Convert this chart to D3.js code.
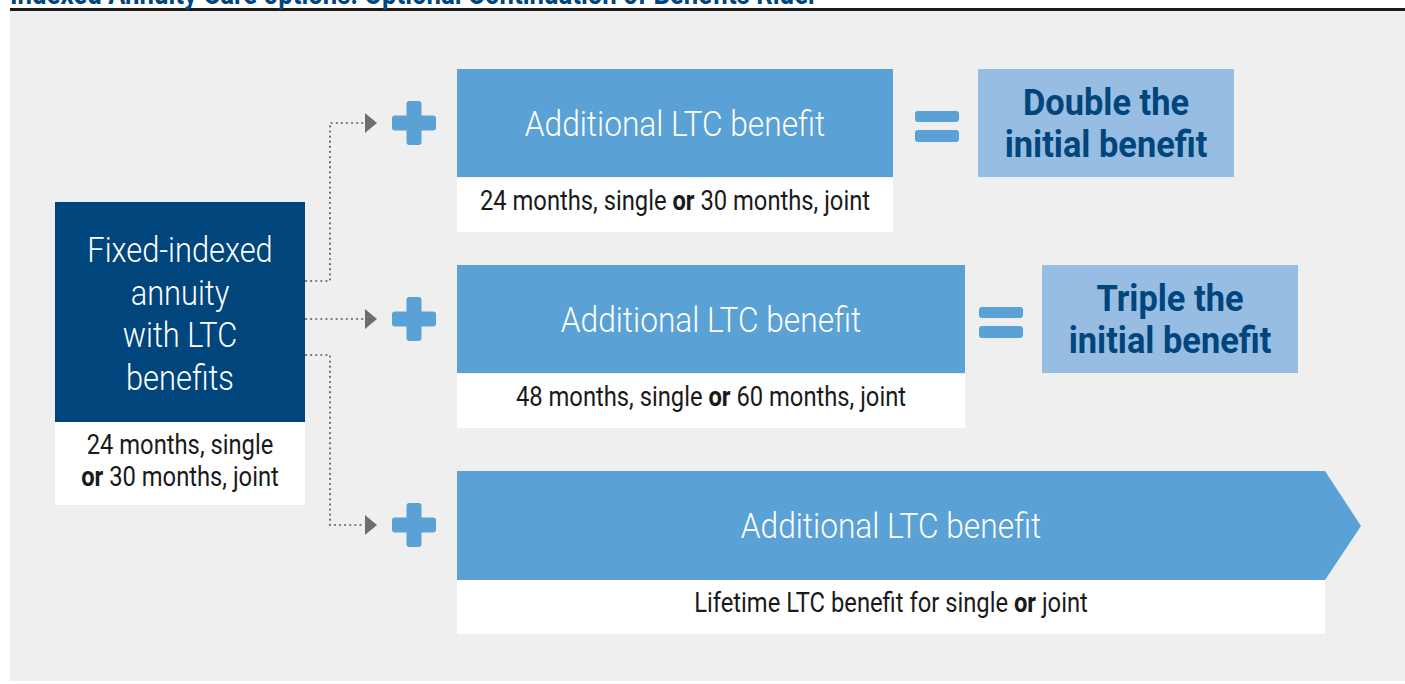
<!DOCTYPE html>
<html>
<head>
<meta charset="utf-8">
<script src="https://cdn.jsdelivr.net/npm/d3@7"></script>
<style>
  body { margin: 0; background: #ffffff; }
  svg { display: block; font-family: Roboto, "Liberation Sans", sans-serif; }
</style>
</head>
<body>
<div id="chart"></div>
<script>
// ---- content ----
const titleText = "Indexed Annuity Care options: Optional Continuation of Benefits Rider";
const baseLines = ["Fixed-indexed", "annuity", "with LTC", "benefits"];
const baseTerms = [[["24 months, single", false]], [["or", true], [" 30 months, joint", false]]];
const options = ["top", "middle", "bottom"];
const optionLabels = ["Additional LTC benefit", "Additional LTC benefit", "Additional LTC benefit"];
const optionTerms = [
    [["24 months, single ", false], ["or", true], [" 30 months, joint", false]],
    [["48 months, single ", false], ["or", true], [" 60 months, joint", false]],
    [["Lifetime LTC benefit for single ", false], ["or", true], [" joint", false]]
];
const resultLines = [["Double the", "initial benefit"], ["Triple the", "initial benefit"], null];

const W = 1405, H = 684;
const navy = "#00457c", blue = "#5aa1d5", light = "#98bde3", grey = "#6d6e71";

const svg = d3.select("#chart").append("svg")
    .attr("width", W)
    .attr("height", H);

// background panel + rule (title runs off the top edge, as in the source)
svg.append("rect").attr("x", 10).attr("y", 11).attr("width", W - 10).attr("height", 670).attr("fill", "#efefef");
svg.append("rect").attr("x", 10).attr("y", 8).attr("width", W - 10).attr("height", 3).attr("fill", "#1a1a1a");
svg.append("text")
    .attr("transform", "translate(10,4) scale(0.86,1)")
    .attr("font-size", 30).attr("font-weight", 700).attr("fill", navy)
    .text(titleText);

// row layout
const rowY = d3.scaleOrdinal().domain(options).range([123, 319, 525]);      // centre of blue boxes
const boxW = d3.scaleOrdinal().domain(options).range([436, 508, 868]);
const resX = d3.scaleOrdinal().domain(options).range([978, 1042, 0]);
const boxX = 457, boxH = 108, subH = 54;
const sx = 0.88;

// helper: condensed text with mixed bold runs
function runs(g, parts, x, y, size, fill) {
    const t = g.append("text")
        .attr("transform", `translate(${x},${y}) scale(${sx},1)`)
        .attr("text-anchor", "middle")
        .attr("font-size", size)
        .attr("fill", fill);
    parts.forEach(p => {
        t.append("tspan").attr("font-weight", p[1] ? 700 : 400).text(p[0]);
    });
    return t;
}

// base box
const base = svg.append("g");
base.append("rect").attr("x", 55).attr("y", 202).attr("width", 250).attr("height", 220).attr("fill", navy);
base.append("rect").attr("x", 55).attr("y", 422).attr("width", 250).attr("height", 83).attr("fill", "#ffffff");
baseLines.forEach((l, i) => {
    base.append("text")
        .attr("transform", `translate(180,${262 + i * 42.5}) scale(${sx},1)`)
        .attr("text-anchor", "middle")
        .attr("font-size", 35).attr("font-weight", 300).attr("fill", "#ffffff")
        .text(l);
});
baseTerms.forEach((parts, i) => runs(base, parts, 180, 454 + i * 32, 27, "#1a1a1a"));

// connectors
const conn = svg.append("g").attr("fill", "none").attr("stroke", grey)
    .attr("stroke-width", 2.2).attr("stroke-dasharray", "0.1 5").attr("stroke-linecap", "round");
const stubY = [281, 319, 355];
options.forEach((o, i) => {
    const y0 = stubY[i], y1 = rowY(o);
    const pts = i === 1 ? [[306, y0], [364, y1]] : [[306, y0], [330, y0], [330, y1], [364, y1]];
    conn.append("path").attr("d", d3.line()(pts));
    svg.append("path")
        .attr("d", d3.line()([[365, y1 - 10], [377, y1], [365, y1 + 10]]) + "Z")
        .attr("fill", grey);
});

// plus signs
options.forEach(o => {
    const cy = rowY(o), cx = 414;
    const g = svg.append("g").attr("fill", blue);
    g.append("rect").attr("x", cx - 22).attr("y", cy - 7.5).attr("width", 44).attr("height", 15).attr("rx", 3);
    g.append("rect").attr("x", cx - 7.5).attr("y", cy - 22).attr("width", 15).attr("height", 44).attr("rx", 3);
});

// option boxes
options.forEach((o, i) => {
    const cy = rowY(o), top = cy - boxH / 2, w = boxW(o);
    const g = svg.append("g");
    if (o === "bottom") {
        g.append("path")
            .attr("d", d3.line()([[boxX, top], [boxX + w, top], [boxX + w + 36, cy + 1], [boxX + w, top + boxH + 1], [boxX, top + boxH + 1]]) + "Z")
            .attr("fill", blue);
    } else {
        g.append("rect").attr("x", boxX).attr("y", top).attr("width", w).attr("height", boxH).attr("fill", blue);
    }
    g.append("rect").attr("x", boxX).attr("y", top + boxH + 1).attr("width", w).attr("height", subH).attr("fill", "#ffffff");
    g.append("text")
        .attr("transform", `translate(${boxX + w / 2},${cy + 13}) scale(${sx},1)`)
        .attr("text-anchor", "middle")
        .attr("font-size", 36).attr("font-weight", 300).attr("fill", "#ffffff")
        .text(optionLabels[i]);
    runs(g, optionTerms[i], boxX + w / 2, top + boxH + 33, 27, "#1a1a1a");

    // result
    if (resultLines[i]) {
        const rx = resX(o);
        const eq = svg.append("g").attr("fill", blue);
        eq.append("rect").attr("x", rx - 63).attr("y", cy - 12).attr("width", 44).attr("height", 11).attr("rx", 3);
        eq.append("rect").attr("x", rx - 63).attr("y", cy + 7).attr("width", 44).attr("height", 12).attr("rx", 3);
        svg.append("rect").attr("x", rx).attr("y", top).attr("width", 256).attr("height", boxH).attr("fill", light);
        resultLines[i].forEach((l, j) => {
            svg.append("text")
                .attr("transform", `translate(${rx + 128},${cy - 8 + j * 42}) scale(0.93,1)`)
                .attr("text-anchor", "middle")
                .attr("font-size", 37).attr("font-weight", 700).attr("fill", navy)
                .text(l);
        });
    }
});
</script>
</body>
</html>
